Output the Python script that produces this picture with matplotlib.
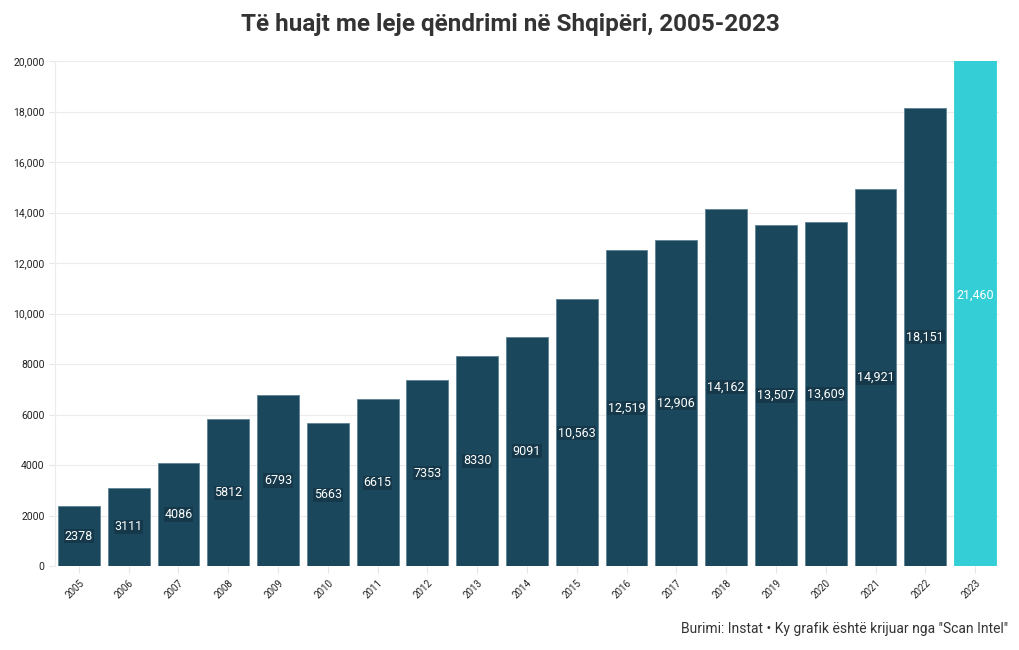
import matplotlib
matplotlib.use("Agg")
import matplotlib.pyplot as plt
from matplotlib.ticker import FuncFormatter

years = [str(y) for y in range(2005, 2024)]
permits = [2378, 3111, 4086, 5812, 6793, 5663, 6615, 7353, 8330, 9091,
           10563, 12519, 12906, 14162, 13507, 13609, 14921, 18151, 21460]

DARK = "#1b475c"
CYAN = "#34cfd6"


def fmt(v):
    v = int(round(v))
    return f"{v:,}" if v >= 10000 else str(v)


plt.rcParams["font.family"] = ["Roboto", "DejaVu Sans"]

fig = plt.figure(figsize=(10.2, 6.5), dpi=100)
ax = fig.add_axes([0.0539, 0.129, 0.9255, 0.777])

colors = [DARK] * (len(years) - 1) + [CYAN]
edges = ["#5d8494"] * (len(years) - 1) + [CYAN]
x = range(len(years))
ax.bar(x, permits, width=0.84, color=colors, edgecolor=edges, linewidth=0.6, zorder=2)

# labels sit at half the real value (2023 bar runs off the top of the axis)
for i, v in enumerate(permits):
    last = i == len(years) - 1
    box = None if last else dict(boxstyle="square,pad=0.05", fc="#15394a", ec="none")
    ax.text(i, v / 2, fmt(v), ha="center", va="center", color="white",
            fontsize=9, bbox=box, zorder=3)

ax.set_ylim(0, 20000)
ax.set_xlim(-0.48, len(years) - 0.52)
ax.set_yticks(range(0, 20001, 2000))
ax.yaxis.set_major_formatter(FuncFormatter(lambda v, p: fmt(v)))
ax.set_xticks(list(x))
ax.set_xticklabels(years, rotation=45, ha="right", rotation_mode="anchor", fontsize=7)
ax.tick_params(axis="y", labelsize=7.5, length=4, color="#e6e6e6", colors="#222222")
ax.tick_params(axis="x", length=5, color="#e6e6e6", colors="#222222")
ax.grid(axis="y", color="#ececec", linewidth=0.8, zorder=0)
for s in ["top", "right", "bottom"]:
    ax.spines[s].set_visible(False)
ax.spines["left"].set_color("#ececec")

fig.text(0.5, 0.962, "Të huajt me leje qëndrimi në Shqipëri, 2005-2023",
         ha="center", va="center", fontsize=17.5, fontweight="bold", color="#333333")
fig.text(0.988, 0.033, 'Burimi: Instat • Ky grafik është krijuar nga "Scan Intel"',
         ha="right", va="center", fontsize=10, color="#333333")

fig.savefig("out.png", dpi=100)
